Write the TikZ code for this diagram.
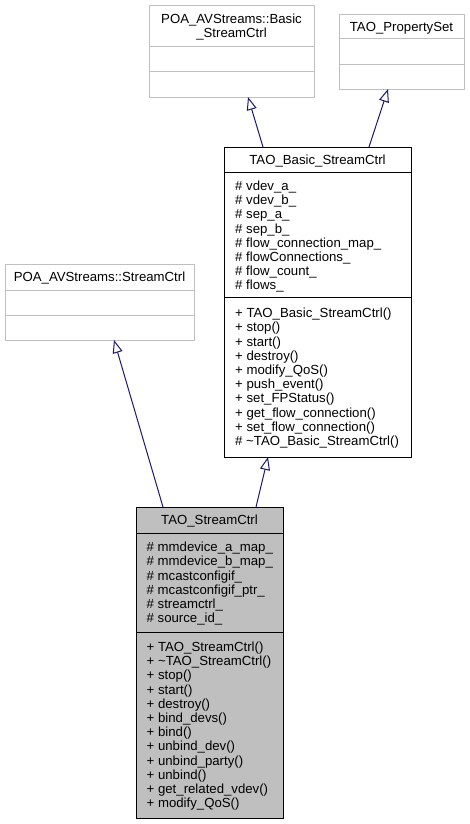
\documentclass[tikz,border=0pt]{standalone}
\usepackage{fontspec}
\setmainfont{Liberation Sans}
\usetikzlibrary{arrows.meta}
\definecolor{extgray}{HTML}{BFBFBF}
\definecolor{navyline}{HTML}{191970}
\begin{document}
\begin{tikzpicture}[x=1pt,y=-1pt,
  box/.style={draw, line width=1pt, inner sep=0pt, anchor=north west},
  ext/.style={box, draw=extgray},
  cur/.style={box, draw=black, fill=extgray},
  sepext/.style={draw=extgray, line width=1pt},
  sepcur/.style={draw=black, line width=1pt},
  txt/.style={anchor=base west, inner sep=0pt, font=\fontsize{13.2}{14.2}\selectfont},
  ttl/.style={anchor=base, inner sep=0pt, font=\fontsize{13.2}{14.2}\selectfont},
  inh/.style={draw=navyline, line width=1pt, -{Triangle[open, length=13pt, width=10pt]}}
]
\useasboundingbox (0,0) rectangle (469,824);

% POA_AVStreams::Basic_StreamCtrl
\node[ext, minimum width=165pt, minimum height=92pt] (b1) at (149,5) {};
\draw[sepext] (149,47) -- (314,47);
\draw[sepext] (149,72) -- (314,72);
\node[ttl] (b1t1) at (231.5,23.6) {POA\_AVStreams::Basic};
\node[ttl] (b1t2) at (231.5,37.8) {\_StreamCtrl};

% TAO_PropertySet
\node[ext, minimum width=125pt, minimum height=75pt] (b2) at (339,14) {};
\draw[sepext] (339,39) -- (464,39);
\draw[sepext] (339,65) -- (464,65);
\node[ttl] (b2t) at (401.5,31.2) {TAO\_PropertySet};

% TAO_Basic_StreamCtrl
\node[box, draw=black, minimum width=187pt, minimum height=310pt] (b3) at (224,147) {};
\draw[sepcur] (224,172) -- (411,172);
\draw[sepcur] (224,297) -- (411,297);
\node[ttl] (b3t) at (317.5,164.2) {TAO\_Basic\_StreamCtrl};
\foreach \t [count=\i from 0] in {{\# vdev\_a\_},{\# vdev\_b\_},{\# sep\_a\_},{\# sep\_b\_},{\# flow\_connection\_map\_},{\# flowConnections\_},{\# flow\_count\_},{\# flows\_}}
  \node[txt] (b3a\i) at (235,190.5+\i*14.2) {\t};
\foreach \t [count=\i from 0] in {{+ TAO\_Basic\_StreamCtrl()},{+ stop()},{+ start()},{+ destroy()},{+ modify\_QoS()},{+ push\_event()},{+ set\_FPStatus()},{+ get\_flow\_connection()},{+ set\_flow\_connection()},{\# \textasciitilde TAO\_Basic\_StreamCtrl()}}
  \node[txt] (b3m\i) at (235,317.7+\i*14.2) {\t};

% POA_AVStreams::StreamCtrl
\node[ext, minimum width=189pt, minimum height=76pt] (b5) at (5,264) {};
\draw[sepext] (5,290) -- (194,290);
\draw[sepext] (5,315) -- (194,315);
\node[ttl] (b5t) at (99.5,281.2) {POA\_AVStreams::StreamCtrl};

% TAO_StreamCtrl
\node[cur, minimum width=147pt, minimum height=311pt] (b4) at (136,507) {};
\draw[sepcur] (136,533) -- (283,533);
\draw[sepcur] (136,632) -- (283,632);
\node[ttl] (b4t) at (209.5,524.2) {TAO\_StreamCtrl};
\foreach \t [count=\i from 0] in {{\# mmdevice\_a\_map\_},{\# mmdevice\_b\_map\_},{\# mcastconfigif\_},{\# mcastconfigif\_ptr\_},{\# streamctrl\_},{\# source\_id\_}}
  \node[txt] (b4a\i) at (146.5,551.7+\i*14.2) {\t};
\foreach \t [count=\i from 0] in {{+ TAO\_StreamCtrl()},{+ \textasciitilde TAO\_StreamCtrl()},{+ stop()},{+ start()},{+ destroy()},{+ bind\_devs()},{+ bind()},{+ unbind\_dev()},{+ unbind\_party()},{+ unbind()},{+ get\_related\_vdev()},{+ modify\_QoS()}}
  \node[txt] (b4m\i) at (146.5,651.5+\i*14.2) {\t};

% connector end points
\coordinate (c31s) at (263,147);
\coordinate (c31e) at (248,97);
\coordinate (c32s) at (369,147);
\coordinate (c32e) at (388,89);
\coordinate (c43s) at (256,507);
\coordinate (c43e) at (268,457);
\coordinate (c45s) at (163,507);
\coordinate (c45e) at (114,340);

\draw[inh] (c31s) -- (c31e);
\draw[inh] (c32s) -- (c32e);
\draw[inh] (c43s) -- (c43e);
\draw[inh] (c45s) -- (c45e);
\end{tikzpicture}
\end{document}
